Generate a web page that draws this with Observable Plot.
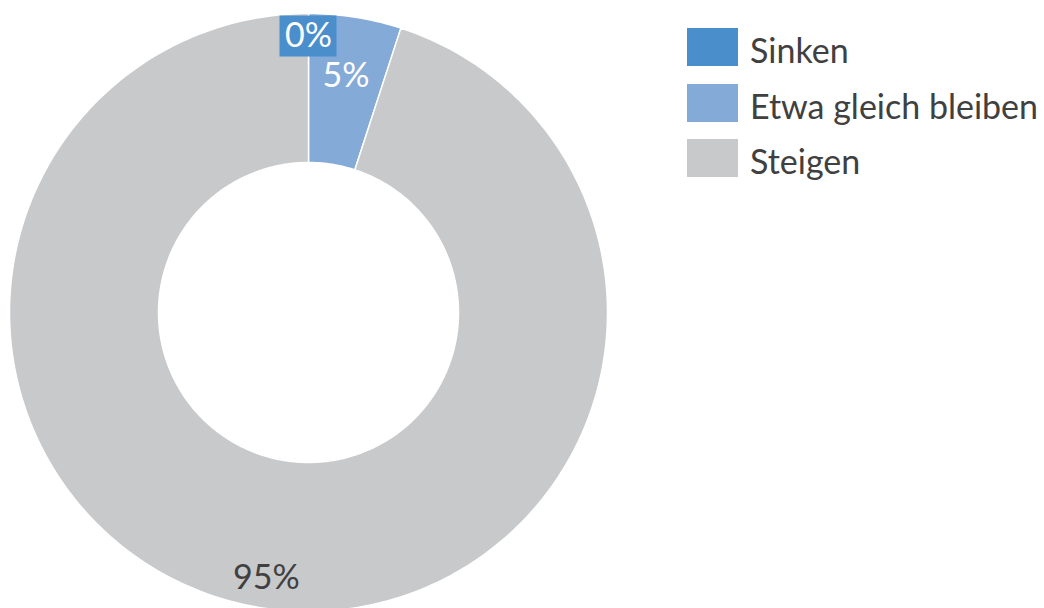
<!DOCTYPE html>
<html>
<head>
<meta charset="utf-8">
<script src="https://cdn.jsdelivr.net/npm/d3@7"></script>
<script src="https://cdn.jsdelivr.net/npm/@observablehq/plot@0.6"></script>
<style>
  html, body { margin: 0; padding: 0; background: #fff; }
  #wrap { position: relative; width: 1044px; height: 608px; overflow: hidden; font-family: Lato, "Open Sans", sans-serif; }
  #chart { position: absolute; left: 0; top: 0; }
  #legend { position: absolute; left: 687px; top: 28px; }
  .row { display: flex; align-items: center; height: 38px; margin-bottom: 17.5px; }
  .sw { width: 51px; height: 38px; flex: none; }
  .lab { margin-left: 12px; font-size: 34px; color: #404040; line-height: 38px; position: relative; top: 3px; white-space: nowrap; }
</style>
</head>
<body>
<div id="wrap">
  <div id="chart"></div>
  <div id="legend"></div>
</div>
<script>
// ---- data ----
const categories = ["Sinken", "Etwa gleich bleiben", "Steigen"];
const values = [0, 5, 95];
const labels = ["0%", "5%", "95%"];
const colors = ["#4a8fcb", "#84aad8", "#c8c9cb"];

// ---- geometry (normalized to outer radius = 1) ----
const W = 1044, H = 608;
const cx = 308, cy = 312, R = 299;
const innerR = 150 / R;
const xDomain = [(0 - cx) / R, (W - cx) / R];
const yDomain = [(cy - H) / R, cy / R];

const arcs = d3.pie().sort(null).value(d => d.value)(
  categories.map((c, i) => ({cat: c, value: values[i], label: labels[i], i}))
);

const polyRows = [];
for (const a of arcs) {
  if (a.endAngle - a.startAngle <= 0) continue;
  const n = Math.max(2, Math.ceil((a.endAngle - a.startAngle) / (Math.PI / 180)));
  const pts = [];
  for (let k = 0; k <= n; k++) {
    const t = a.startAngle + (a.endAngle - a.startAngle) * k / n;
    pts.push([Math.sin(t), Math.cos(t)]);
  }
  for (let k = n; k >= 0; k--) {
    const t = a.startAngle + (a.endAngle - a.startAngle) * k / n;
    pts.push([innerR * Math.sin(t), innerR * Math.cos(t)]);
  }
  pts.push(pts[0]);
  for (const p of pts) polyRows.push({cat: a.data.cat, x: p[0], y: p[1]});
}

// label placement radius per slice (Excel-like label positions)
const labelRadius = [0.923, 0.8, 0.9];
const labelRows = arcs.map((a, i) => {
  const mid = (a.startAngle + a.endAngle) / 2;
  return {cat: a.data.cat, text: a.data.label, i,
          x: labelRadius[i] * Math.sin(mid), y: labelRadius[i] * Math.cos(mid)};
});
const boxW = 57 / R, boxH = 41 / R;
const boxRows = labelRows.filter(d => d.i === 0).map(d => ({
  cat: d.cat, x1: d.x - boxW / 2, x2: d.x + boxW / 2, y1: d.y - boxH / 2, y2: d.y + boxH / 2
}));

const font = "Lato, 'Open Sans', sans-serif";
const chart = Plot.plot({
  width: W, height: H,
  margin: 0,
  x: {domain: xDomain, axis: null},
  y: {domain: yDomain, axis: null},
  color: {domain: categories, range: colors},
  marks: [
    Plot.line(polyRows, {x: "x", y: "y", z: "cat", fill: "cat", stroke: "white", strokeWidth: 1.5, strokeLinejoin: "round"}),
    Plot.rect(boxRows, {x1: "x1", x2: "x2", y1: "y1", y2: "y2", fill: "cat"}),
    Plot.text(labelRows.filter(d => d.i < 2), {x: "x", y: "y", text: "text", fill: "white", fontSize: 34, fontFamily: font}),
    Plot.text(labelRows.filter(d => d.i === 2), {x: "x", y: "y", text: "text", fill: "#404040", fontSize: 34, fontFamily: font})
  ]
});
document.getElementById("chart").appendChild(chart);

// legend
const leg = document.getElementById("legend");
categories.forEach((c, i) => {
  const row = document.createElement("div");
  row.className = "row";
  const sw = document.createElement("div");
  sw.className = "sw";
  sw.style.background = colors[i];
  const lab = document.createElement("div");
  lab.className = "lab";
  lab.textContent = c;
  row.appendChild(sw); row.appendChild(lab);
  leg.appendChild(row);
});
</script>
</body>
</html>
